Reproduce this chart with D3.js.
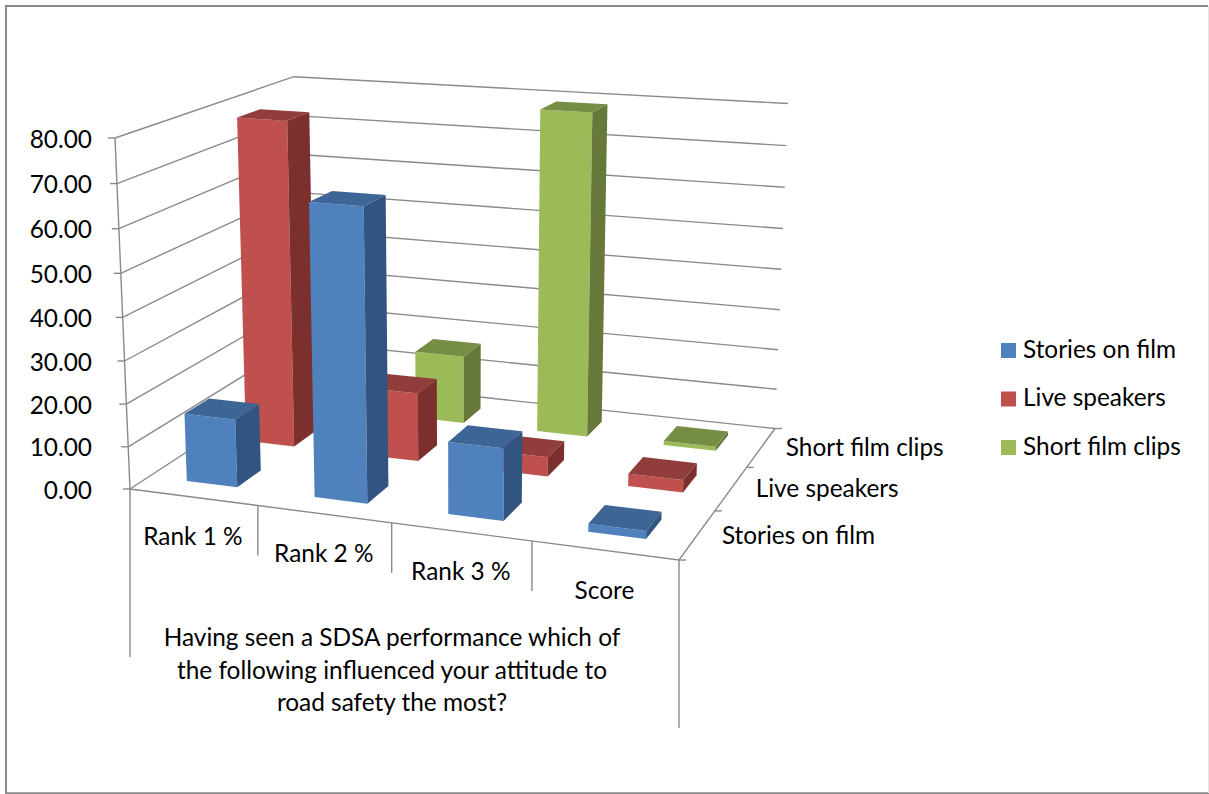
<!DOCTYPE html>
<html><head><meta charset="utf-8">
<script src="https://cdn.jsdelivr.net/npm/d3@7"></script>
<style>html,body{margin:0;padding:0;background:#fff}svg{display:block}text{font-family:Lato,"Open Sans",sans-serif;fill:#000}</style>
</head><body><svg id="c" width="1209" height="794"></svg>
<script>
const categories = ["Rank 1 %","Rank 2 %","Rank 3 %","Score"];
const seriesNames = ["Stories on film","Live speakers","Short film clips"];
const storiesOnFilm = [16, 67, 16.5, 1.8];
const liveSpeakers = [78.5, 16.5, 4.6, 2.9];
const shortFilmClips = [5.5, 17, 79, 1];
const yTicks = [0,10,20,30,40,50,60,70,80];
const axisTitle = ["Having seen a SDSA performance which of","the following influenced your attitude to","road safety the most?"];
const faceColors = ["#4F81BD","#C0504D","#9BBB59"];
const topColors = ["#3D6595","#913D3B","#768E43"];
const sideColors = ["#325480","#7C302E","#66793A"];

const seriesValues = [storiesOnFilm, liveSpeakers, shortFilmClips];
const svg = d3.select("#c");
const AXIS = "#8a8a8a", FS = 24.4;

// chart frame
svg.append("path").attr("d","M6,793V6H1208").attr("fill","none").attr("stroke","#8a8a8a").attr("stroke-width",2);
svg.append("path").attr("d","M5,793.5H1209").attr("fill","none").attr("stroke","#8a8a8a").attr("stroke-width",2.5);
svg.append("path").attr("d","M1208.5,6V793").attr("fill","none").attr("stroke","#e4e4e4").attr("stroke-width",1);

// floor quad + vertical vanishing point define the 3D projection
const q = [[130,489],[679,560],[775,428.5],[300,378]];
const V = [461,8240];
const [[x0,y0],[x1,y1],[x2,y2],[x3,y3]] = q;
const dx1=x1-x2,dx2=x3-x2,sx=x0-x1+x2-x3,dy1=y1-y2,dy2=y3-y2,sy=y0-y1+y2-y3;
const den=dx1*dy2-dx2*dy1;
const g=(sx*dy2-dx2*sy)/den,h=(dx1*sy-sx*dy1)/den;
const a=x1-x0+g*x1,b=x3-x0+h*x3,d=y1-y0+g*y1,e=y3-y0+h*y3;
const kz=(y0-138)/(138-V[1]);

const zScale = d3.scaleLinear().domain([0,80]).range([0,1]);
const uBand = d3.scaleBand().domain(categories).range([0,1]).padding(0.6).paddingOuter(0.3);
const vBand = d3.scaleBand().domain(seriesNames).range([0,1]).padding(0.6).paddingOuter(0.3);
const uPos = d3.scalePoint().domain(d3.range(categories.length+1)).range([0,1]);
const vPos = d3.scalePoint().domain(d3.range(seriesNames.length+1)).range([0,1]);

function proj(u,v,val){
  const t=kz*zScale(val);
  const W=g*u+h*v+1+t;
  return [(a*u+b*v+x0+t*V[0])/W,(d*u+e*v+y0+t*V[1])/W];
}
const line = d3.line();
const gridG = svg.append("g").attr("fill","none").attr("stroke",AXIS).attr("stroke-width",1.4);
const seg = (pts)=>gridG.append("path").attr("d",line(pts));

// walls' gridlines
yTicks.forEach(t=>{
  seg([proj(0,0,t),proj(0,1,t),proj(1,1,t)]);
  const p=proj(0,0,t);
  seg([[p[0]-7,p[1]],p]);
  svg.append("text").attr("x",92).attr("y",p[1]+3.5).attr("text-anchor","end").attr("dominant-baseline","middle").attr("font-size",FS).text(d3.format(".2f")(t));
});
// value axis
seg([proj(0,0,0),proj(0,0,80)]);
// floor front + right edges
seg([proj(0,0,0),proj(1,0,0),proj(1,1,0)]);
// depth ticks
vPos.domain().forEach(i=>{
  const p=proj(1,vPos(i),0);
  seg([p,[p[0]+7,p[1]]]);
});
// category separators
uPos.domain().forEach((i)=>{
  const p=proj(uPos(i),0,0);
  const outer = i===0||i===categories.length;
  seg([p,[p[0],p[1]+(outer?168:50)]]);
});

// bars back to front
const bars=[];
seriesNames.forEach((s,si)=>categories.forEach((c,ci)=>bars.push({s,si,c,ci,val:seriesValues[si][ci]})));
bars.sort((p,r)=>d3.descending(p.si,r.si)||d3.ascending(p.ci,r.ci));
const poly = pts=>"M"+pts.map(p=>p.join(",")).join("L")+"Z";
const barG = svg.selectAll("g.bar").data(bars.filter(b=>b.val>0)).join("g").attr("class","bar");
const corners = b=>{
  const u0=uBand(b.c),u1=u0+uBand.bandwidth(),v0=vBand(b.s),v1=v0+vBand.bandwidth();
  return {u0,u1,v0,v1};
};
barG.append("path").attr("fill",b=>faceColors[b.si]).attr("d",b=>{const k=corners(b);return poly([proj(k.u0,k.v0,0),proj(k.u1,k.v0,0),proj(k.u1,k.v0,b.val),proj(k.u0,k.v0,b.val)]);});
barG.append("path").attr("fill",b=>sideColors[b.si]).attr("d",b=>{const k=corners(b);return poly([proj(k.u1,k.v0,0),proj(k.u1,k.v1,0),proj(k.u1,k.v1,b.val),proj(k.u1,k.v0,b.val)]);});
barG.append("path").attr("fill",b=>topColors[b.si]).attr("d",b=>{const k=corners(b);return poly([proj(k.u0,k.v0,b.val),proj(k.u1,k.v0,b.val),proj(k.u1,k.v1,b.val),proj(k.u0,k.v1,b.val)]);});

const label=(x,y,t,anchor)=>svg.append("text").attr("x",x).attr("y",y).attr("text-anchor",anchor||"middle").attr("dominant-baseline","middle").attr("font-size",FS).text(t);
// category labels
categories.forEach((c,i)=>{
  const pa=proj(uPos(i),0,0),pb=proj(uPos(i+1),0,0);
  label((pa[0]+pb[0])/2-1,(pa[1]+pb[1])/2+42,c);
});
// depth labels
seriesNames.forEach((s,i)=>{
  const pa=proj(1,vPos(i),0),pb=proj(1,vPos(i+1),0);
  label((pa[0]+pb[0])/2+25,(pa[1]+pb[1])/2+2,s,"start");
});
// axis title
axisTitle.forEach((l,i)=>label(392,640+i*32.5,l));
// legend
const legendY = d3.scalePoint().domain(seriesNames).range([350.5,447.5]);
seriesNames.forEach((s,i)=>{
  svg.append("rect").attr("x",1001).attr("y",legendY(s)-7.5).attr("width",15).attr("height",15).attr("fill",faceColors[i]);
  label(1023,legendY(s)+1,s,"start");
});
</script></body></html>
